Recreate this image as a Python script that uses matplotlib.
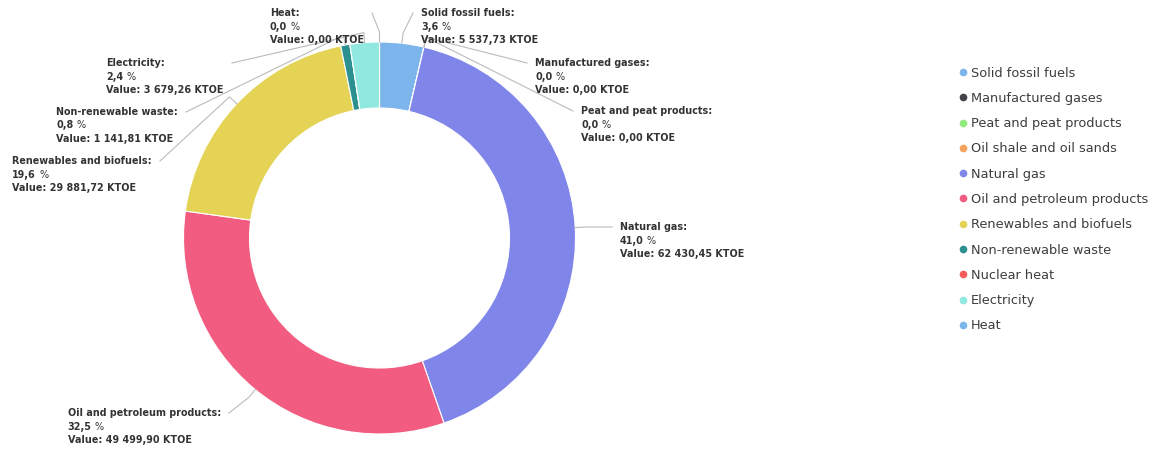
import matplotlib
matplotlib.use("Agg")
import matplotlib.pyplot as plt
import numpy as np
from matplotlib.lines import Line2D

# data (KTOE)
categories = ["Solid fossil fuels", "Manufactured gases", "Peat and peat products",
              "Oil shale and oil sands", "Natural gas", "Oil and petroleum products",
              "Renewables and biofuels", "Non-renewable waste", "Nuclear heat",
              "Electricity", "Heat"]
values = [5537.73, 0.0, 0.0, 0.0, 62430.45, 49499.90, 29881.72, 1141.81, 0.0, 3679.26, 0.0]
colors = ["#7cb5ec", "#434348", "#90ed7d", "#f7a35c", "#8085e9", "#f15c80",
          "#e4d354", "#2b908f", "#f45b5b", "#91e8e1", "#7cb5ec"]

# where each data label's connector ends (pixel coords, y from top) and which side
label_pos = {
    "Solid fossil fuels": (413, 13, "right"),
    "Manufactured gases": (527, 63, "right"),
    "Peat and peat products": (573, 111, "right"),
    "Natural gas": (612, 227, "right"),
    "Oil and petroleum products": (229, 413, "left"),
    "Renewables and biofuels": (160, 161, "left"),
    "Non-renewable waste": (186, 112, "left"),
    "Electricity": (232, 63, "left"),
    "Heat": (372, 13, "left"),
}

W, H = 1161, 450
cx, cy = 379.5, H - 238
R, ring = 196, 66
txt = "#333333"
plt.rcParams["font.family"] = ["DejaVu Sans"]

fig = plt.figure(figsize=(W / 100, H / 100), dpi=100)
ax = fig.add_axes([0, 0, 1, 1])
ax.pie(values, colors=colors, startangle=90, counterclock=False, center=(cx, cy),
       radius=R, wedgeprops=dict(width=ring, edgecolor="white", linewidth=0.8))
ax.set_xlim(0, W)
ax.set_ylim(0, H)
ax.set_aspect("auto")
ax.axis("off")

def fmt(v, d):
    s = f"{v:,.{d}f}"
    return s.replace(",", " ").replace(".", ",")

total = sum(values)
cum = np.cumsum([0] + values)
renderer = fig.canvas.get_renderer()
fs = 6.95
step = 13.5

for i, name in enumerate(categories):
    if name not in label_pos:
        continue
    ax_, ay_, side = label_pos[name]
    ay = H - ay_
    mid = np.deg2rad(360 * (cum[i] + values[i] / 2) / total)
    ex, ey = cx + R * np.sin(mid), cy + R * np.cos(mid)
    bx, by = cx + (R + 10) * np.sin(mid), cy + (R + 10) * np.cos(mid)
    ax.plot([ex, bx, ax_], [ey, by, ay], color="#bbbbbb", lw=0.8, zorder=1)

    t1 = ax.text(0, ay, name + ":", fontsize=fs, weight="bold", color=txt, va="center")
    t2 = ax.text(0, ay - step, fmt(100 * values[i] / total, 1), fontsize=fs,
                 weight="bold", color=txt, va="center")
    t2p = ax.text(0, ay - step, "%", fontsize=fs, color=txt, va="center")
    t3 = ax.text(0, ay - 2 * step, "Value: " + fmt(values[i], 2) + " KTOE",
                 fontsize=fs, weight="bold", color=txt, va="center")
    w1 = t1.get_window_extent(renderer).width
    w2 = t2.get_window_extent(renderer).width
    w2p = t2p.get_window_extent(renderer).width
    w3 = t3.get_window_extent(renderer).width
    bw = max(w1, w2 + 3 + w2p, w3)
    left = ax_ + 8 if side == "right" else ax_ - 8 - bw
    for t in (t1, t2, t3):
        t.set_x(left)
    t2p.set_x(left + w2 + 3)

handles = [Line2D([], [], ls="", marker="o", markersize=4.5, color=c) for c in colors]
leg = fig.legend(handles, categories, loc="upper left",
                 bbox_to_anchor=(946 / W, 1 - 55 / H), frameon=False,
                 fontsize=9.3, labelspacing=0.95, handlelength=0.8, handletextpad=0.25)
for t in leg.get_texts():
    t.set_color("#3d3d3d")

fig.savefig("out.png", dpi=100)
